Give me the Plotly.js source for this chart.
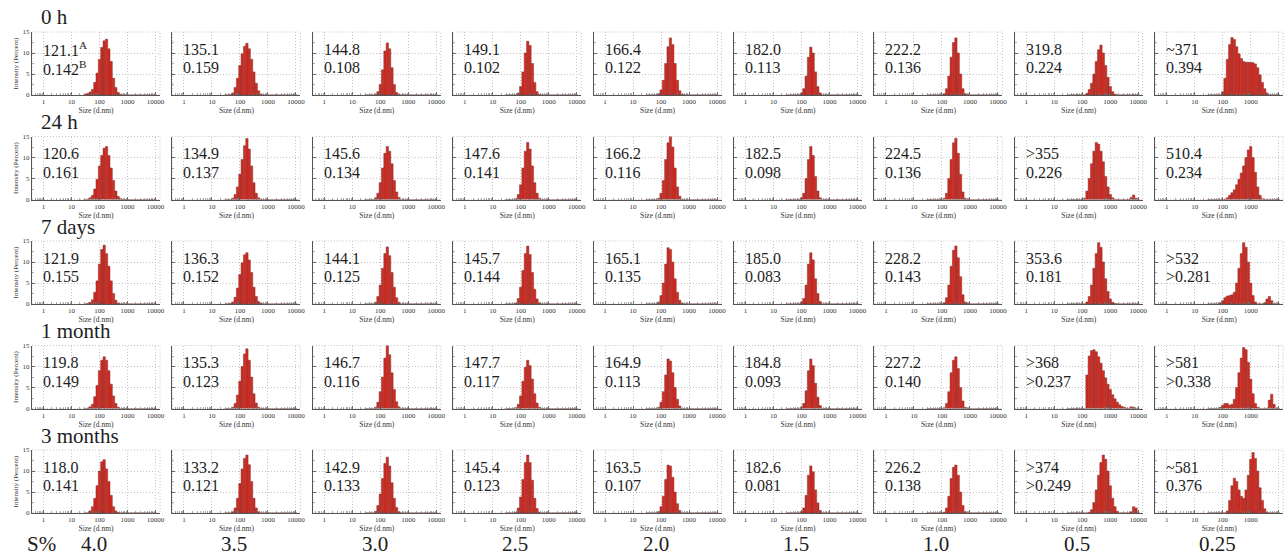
<!DOCTYPE html>
<html><head><meta charset="utf-8">
<script src="https://cdn.plot.ly/plotly-3.0.1.min.js"></script>
<style>html,body{margin:0;padding:0;background:#fff}#chart{width:1287px;height:558px}</style>
</head><body><div id="chart"></div>
<script>
// Size bins (d.nm) of the intensity distributions (12 per decade)
const sizeBins = [31.6, 38.3, 46.4, 56.2, 68.1, 82.5, 100, 121, 147, 178, 215, 261, 316, 383, 464, 562, 681, 825,
                  1000, 1212, 1468, 1778, 2154, 2610, 3162, 3831, 4642, 5623, 6813, 8254, 10000];
const xTickSizes = [1, 10, 100, 1000, 10000];
const rowTitles = ['0 h', '24 h', '7 days', '1 month', '3 months'];
const surfactant = ['4.0', '3.5', '3.0', '2.5', '2.0', '1.5', '1.0', '0.5', '0.25'];

// Intensity (%) per size bin, one list per S% column
const intensity_0h = [
  [0.2,0.4,0.7, 1.3,3,5.2, 8.5,11.3,12.9, 13.3,11,8, 4,1.8,0.6, 0.1,0,0, 0,0,0, 0,0,0, 0,0,0, 0,0,0, 0],
  [0,0,0.1, 0.5,1.8,4, 7,9.8,11.6, 12.3,11,8.5, 5.5,2.8,1, 0.2,0,0, 0,0,0, 0,0,0, 0,0,0, 0,0,0, 0],
  [0,0,0, 0,0.1,0.8, 2.5,6,10.5, 12.4,11,6.5, 2.5,0.6,0.1, 0,0,0, 0,0,0, 0,0,0, 0,0,0, 0,0,0, 0],
  [0,0,0, 0,0,0.5, 2,5.5,10, 12.8,11.8,7.5, 3,0.8,0.1, 0,0,0, 0,0,0, 0,0,0, 0,0,0, 0,0,0, 0],
  [0,0,0, 0,0,0.3, 1.2,3.5,7.5, 11.5,13.6,12, 7.5,3.5,1, 0.2,0,0, 0,0,0, 0,0,0, 0,0,0, 0,0,0, 0],
  [0,0,0, 0,0,0, 0.4,1.5,4.5, 9,11.4,10, 5.5,2,0.5, 0,0,0, 0,0,0, 0,0,0, 0,0,0, 0,0,0, 0],
  [0,0,0, 0,0,0, 0,0.3,1.5, 4.5,9,12.5, 13.6,10,5, 1.5,0.3,0, 0,0,0, 0,0,0, 0,0,0, 0,0,0, 0],
  [0,0,0, 0,0,0, 0,0,0.4, 1.3,2.8,5, 8,10.8,11.9, 10,7,4.2, 2,0.8,0.2, 0,0,0, 0,0,0, 0,0,0, 0],
  [0,0,0, 0,0,0, 0.8,4,8.5, 12,13.7,13.2, 11.5,9.8,8.7, 8,7.8,7.8, 7.8,7.7,7.4, 6.5,4.8,3, 1.5,0.5,0, 0,0,0, 0]
];
const intensity_24h = [
  [0,0.1,0.4, 1,2.5,4.8, 8,10.5,12.2, 12.6,10.5,7.5, 4.5,2,0.7, 0.2,0,0, 0,0,0, 0,0,0, 0,0,0, 0,0,0, 0],
  [0,0,0, 0.3,1.2,3, 6,9.5,12.8, 14.5,12,8, 4,1.5,0.4, 0,0,0, 0,0,0, 0,0,0, 0,0,0, 0,0,0, 0],
  [0,0,0, 0,0.4,1.5, 4,7.5,11, 12.6,11.5,8.5, 4.5,1.8,0.5, 0,0,0, 0,0,0, 0,0,0, 0,0,0, 0,0,0, 0],
  [0,0,0, 0,0.2,1.2, 3.5,7.5,11.5, 13.6,12,8, 4,1.5,0.3, 0,0,0, 0,0,0, 0,0,0, 0,0,0, 0,0,0, 0],
  [0,0,0, 0,0,0.3, 1.5,4.5,9.5, 13.5,15,12.5, 7.5,3,0.8, 0,0,0, 0,0,0, 0,0,0, 0,0,0, 0,0,0, 0],
  [0,0,0, 0,0,0, 0.4,1.5,5, 9.5,12.6,10.5, 5.5,2,0.4, 0,0,0, 0,0,0, 0,0,0, 0,0,0, 0,0,0, 0],
  [0,0,0, 0,0,0, 0,0.3,1.5, 5,9.5,13.5, 14.6,11,6, 1.8,0.3,0, 0,0,0, 0,0,0, 0,0,0, 0,0,0, 0],
  [0,0,0, 0,0,0, 0,0.3,2, 5,8.5,11.5, 13.6,13.2,11.5, 9,5.5,3, 1.2,0.4,0.1, 0,0,0, 0,0,0, 0.5,1.1,0.3, 0],
  [0,0,0, 0,0,0, 0,0.1,0.4, 1,1.6,2.3, 3.5,4.8,6.3, 8,10,11.8, 12.6,10,6.5, 3,1,0.2, 0,0,0, 0,0,0, 0]
];
const intensity_7d = [
  [0,0.1,0.4, 1,2.8,5.5, 9.5,13,14, 12,9,5.5, 2.5,0.9,0.2, 0,0,0, 0,0,0, 0,0,0, 0,0,0, 0,0,0, 0],
  [0,0,0.1, 0.5,1.6,3.8, 7,9.8,11.7, 12.2,10.5,7.5, 4,1.8,0.6, 0.2,0,0, 0,0,0, 0,0,0, 0,0,0, 0,0,0, 0],
  [0,0,0, 0,0.4,1.8, 4.5,8.5,12, 13.6,11.5,7.5, 4,1.5,0.4, 0,0,0, 0,0,0, 0,0,0, 0,0,0, 0,0,0, 0],
  [0,0,0, 0,0.2,1.3, 4,8,12, 13.8,11.8,7.5, 3.5,1.2,0.3, 0,0,0, 0,0,0, 0,0,0, 0,0,0, 0,0,0, 0],
  [0,0,0, 0,0,0.5, 2,5,9.5, 13.4,13,10, 6,2.8,0.9, 0.2,0,0, 0,0,0, 0,0,0, 0,0,0, 0,0,0, 0],
  [0,0,0, 0,0,0, 0.4,1.3,4.5, 9.5,12.2,10.5, 6,2.5,0.6, 0,0,0, 0,0,0, 0,0,0, 0,0,0, 0,0,0, 0],
  [0,0,0, 0,0,0, 0,0.3,1.5, 4.5,9,12.8, 13.8,11,6.5, 2.2,0.5,0.1, 0,0,0, 0,0,0, 0,0,0, 0,0,0, 0],
  [0,0,0, 0,0,0, 0,0,0.5, 1.8,4.5,8.5, 12,14.6,13.5, 10,6,3, 1.2,0.4,0.1, 0,0,0, 0,0,0, 0,0,0, 0],
  [0,0,0, 0,0,0.3, 0.8,1.5,1.9, 2,2.2,2.8, 5,8.5,12, 14.6,13.5,10, 5,2,0.5, 0,0,0, 0.3,1.2,1.8, 0.8,0,0, 0]
];
const intensity_1m = [
  [0,0.1,0.4, 1,2.8,5.5, 9,11.5,12.3, 11.5,9,5.8, 3,1.2,0.3, 0,0,0, 0,0,0, 0,0,0, 0,0,0, 0,0,0, 0],
  [0,0,0, 0.3,1.2,3.2, 6.5,10,13, 14.2,11.5,7.5, 3.5,1.3,0.3, 0,0,0, 0,0,0, 0,0,0, 0,0,0, 0,0,0, 0],
  [0,0,0, 0,0.3,1.5, 4,7.5,12, 15,12.8,8.5, 4.5,1.6,0.4, 0,0,0, 0,0,0, 0,0,0, 0,0,0, 0,0,0, 0],
  [0,0,0, 0,0.2,1, 3,6.5,9.8, 11.5,10.2,7, 3.5,1.3,0.3, 0,0,0, 0,0,0, 0,0,0, 0,0,0, 0,0,0, 0],
  [0,0,0, 0,0,0.3, 1.5,4,8, 11.8,11.3,8.5, 5,2.2,0.6, 0,0,0, 0,0,0, 0,0,0, 0,0,0, 0,0,0, 0],
  [0,0,0, 0,0,0, 0.3,1.2,4.2, 9,11.8,10.2, 6,2.7,0.7, 0,0,0, 0,0,0, 0,0,0, 0,0,0, 0,0,0, 0],
  [0,0,0, 0,0,0, 0,0.2,1.2, 4,8.5,11.5, 12.3,9.5,5, 1.8,0.3,0, 0,0,0, 0,0,0, 0,0,0, 0,0,0, 0],
  [0,0,0, 0,0,0, 0,0,8, 12.5,13.8,14, 13.5,12.3,10.8, 9,7.3,5.8, 4.5,3.3,2.3, 1.5,0.9,0.5, 0.3,0.1,0, 0.4,0.3,0, 0],
  [0,0,0, 0,0,0.3, 0.8,1.2,1.2, 0.8,1,2.2, 5,8.5,12, 14.5,14,11, 7,3.5,1.2, 0.3,0,0, 0,0,2, 3.4,1,0, 0]
];
const intensity_3m = [
  [0,0,0.5, 1.5,3.5,6.5, 10,12.2,12.7, 10.5,7.5,4.2, 1.5,0.5,0.1, 0,0,0, 0,0,0, 0,0,0, 0,0,0, 0,0,0, 0],
  [0,0,0, 0.3,1.2,3.5, 7,10.5,13, 13.8,11.5,7.5, 3.5,1.2,0.3, 0,0,0, 0,0,0, 0,0,0, 0,0,0, 0,0,0, 0],
  [0,0,0, 0,0.4,1.8, 4.5,8.2,11.8, 13.3,11.2,7.2, 3.5,1.3,0.3, 0,0,0, 0,0,0, 0,0,0, 0,0,0, 0,0,0, 0],
  [0,0,0, 0,0.2,1.2, 3.8,8,12, 13.8,12,7.8, 3.5,1.1,0.2, 0,0,0, 0,0,0, 0,0,0, 0,0,0, 0,0,0, 0],
  [0,0,0, 0,0,0.3, 1.5,4,8, 11.4,11.2,8.5, 5,2.2,0.6, 0,0,0, 0,0,0, 0,0,0, 0,0,0, 0,0,0, 0],
  [0,0,0, 0,0,0, 0.3,1.2,4.2, 9,11.2,9.8, 5.5,2.4,0.6, 0,0,0, 0,0,0, 0,0,0, 0,0,0, 0,0,0, 0],
  [0,0,0, 0,0,0, 0,0.2,1.2, 4,8.2,10.9, 11.4,9,5, 1.8,0.3,0, 0,0,0, 0,0,0, 0,0,0, 0,0,0, 0],
  [0,0,0, 0,0,0, 0,0,0, 0.2,0.8,2.5, 5.5,9,12, 13.8,12.8,10, 6.5,3.5,1.5, 0.4,0,0, 0,0,0, 0.3,1.5,1.2, 0],
  [0,0,0, 0,0,0, 0,0,0.5, 3,6.5,8.3, 7.5,5.5,4, 3.5,5.5,9, 12.8,14.4,13, 10,6,3, 1,0.2,0, 0,0,0, 0]
];

// Z-average (d.nm) and PDI labels
const zavg_0h  = ['121.1<sup>A</sup>','135.1','144.8','149.1','166.4','182.0','222.2','319.8','~371'];
const pdi_0h   = ['0.142<sup>B</sup>','0.159','0.108','0.102','0.122','0.113','0.136','0.224','0.394'];
const zavg_24h = ['120.6','134.9','145.6','147.6','166.2','182.5','224.5','>355','510.4'];
const pdi_24h  = ['0.161','0.137','0.134','0.141','0.116','0.098','0.136','0.226','0.234'];
const zavg_7d  = ['121.9','136.3','144.1','145.7','165.1','185.0','228.2','353.6','>532'];
const pdi_7d   = ['0.155','0.152','0.125','0.144','0.135','0.083','0.143','0.181','>0.281'];
const zavg_1m  = ['119.8','135.3','146.7','147.7','164.9','184.8','227.2','>368','>581'];
const pdi_1m   = ['0.149','0.123','0.116','0.117','0.113','0.093','0.140','>0.237','>0.338'];
const zavg_3m  = ['118.0','133.2','142.9','145.4','163.5','182.6','226.2','>374','~581'];
const pdi_3m   = ['0.141','0.121','0.133','0.123','0.107','0.081','0.138','>0.249','0.376'];

const intensityRows = [intensity_0h, intensity_24h, intensity_7d, intensity_1m, intensity_3m];
const zavgRows = [zavg_0h, zavg_24h, zavg_7d, zavg_1m, zavg_3m];
const pdiRows = [pdi_0h, pdi_24h, pdi_7d, pdi_1m, pdi_3m];

// ---- layout geometry (pixels) ----
const W = 1287, H = 558;
const PW = 128, PH = 63, COL0 = 32, COLSTEP = 140.4, ROW0 = 32, ROWSTEP = 104.5;
const FONT = 'Liberation Serif, DejaVu Serif, serif';
const TXT = '#1e1e1e';
const GRID = '#c4c4c4';

const xPos = sizeBins.map(v => Math.log10(v));
const xTickVals = xTickSizes.map(v => Math.log10(v));
const minorVals = [];
[0.1, 1, 10, 100, 1000].forEach(d => { for (let m = 2; m <= 9; m++) minorVals.push(Math.log10(m * d)); });

const data = [];
const layout = {
  width: W, height: H,
  margin: {l: 0, r: 0, t: 0, b: 0},
  paper_bgcolor: '#fff', plot_bgcolor: '#fff',
  showlegend: false,
  bargap: 0,
  font: {family: FONT, color: TXT},
  annotations: [], shapes: []
};

for (let r = 0; r < 5; r++) {
  for (let c = 0; c < 9; c++) {
    const n = r * 9 + c + 1;
    const sfx = n === 1 ? '' : String(n);
    const x0 = COL0 + COLSTEP * c, y0 = ROW0 + ROWSTEP * r;
    data.push({
      type: 'bar', x: xPos, y: intensityRows[r][c], width: 1 / 12,
      xaxis: 'x' + sfx, yaxis: 'y' + sfx,
      marker: {color: '#d9271e', line: {color: '#7a3a36', width: 0.5}},
      hoverinfo: 'skip'
    });
    layout['xaxis' + sfx] = {
      domain: [x0 / W, (x0 + PW) / W], anchor: 'y' + sfx,
      range: [-0.41, 4.16], fixedrange: true,
      tickmode: 'array', tickvals: xTickVals, ticktext: xTickSizes.map(String),
      ticks: 'inside', ticklen: 3, tickcolor: '#555', tickwidth: 0.8,
      minor: {tickvals: minorVals, ticks: 'inside', ticklen: 2, tickcolor: '#777', tickwidth: 0.6, showgrid: false},
      showline: true, linecolor: '#555', linewidth: 1,
      showgrid: true, gridcolor: GRID, griddash: '1px,2px', gridwidth: 1,
      zeroline: false,
      tickfont: {size: 7, family: FONT, color: '#333'},
      title: {text: 'Size (d.nm)', font: {size: 7.5, family: FONT, color: '#333'}, standoff: 1}
    };
    const ya = {
      domain: [1 - (y0 + PH) / H, 1 - y0 / H], anchor: 'x' + sfx,
      range: [0, 15], fixedrange: true,
      tickmode: 'array', tickvals: [0, 5, 10, 15],
      ticks: 'inside', ticklen: 3, tickcolor: '#555', tickwidth: 0.8,
      minor: {dtick: 2.5, ticks: 'inside', ticklen: 2, tickcolor: '#777', tickwidth: 0.6, showgrid: false},
      showline: true, linecolor: '#555', linewidth: 1,
      showgrid: true, gridcolor: GRID, griddash: '1px,2px', gridwidth: 1,
      zeroline: false,
      showticklabels: c === 0,
      tickfont: {size: 7, family: FONT, color: '#333'}
    };
    if (c === 0) ya.title = {text: 'Intensity (Percent)', font: {size: 7, family: FONT, color: '#333'}, standoff: 3};
    layout['yaxis' + sfx] = ya;
    // dotted frame on top/right
    layout.shapes.push({type: 'rect', xref: 'x' + sfx + ' domain', yref: 'y' + sfx + ' domain',
      x0: 0, x1: 1, y0: 0, y1: 1, layer: 'below', line: {color: GRID, width: 1, dash: '1px,2px'}});
    // Z-average and PDI
    layout.annotations.push({xref: 'x' + sfx + ' domain', yref: 'y' + sfx + ' domain', x: 0.07, y: 0.73,
      xanchor: 'left', yanchor: 'middle', showarrow: false, text: zavgRows[r][c],
      font: {size: 16, family: FONT, color: TXT}});
    layout.annotations.push({xref: 'x' + sfx + ' domain', yref: 'y' + sfx + ' domain', x: 0.07, y: 0.43,
      xanchor: 'left', yanchor: 'middle', showarrow: false, text: pdiRows[r][c],
      font: {size: 16, family: FONT, color: TXT}});
  }
  // row title
  layout.annotations.push({xref: 'paper', yref: 'paper', x: 39 / W, y: 1 - (ROW0 + ROWSTEP * r - 0.5) / H,
    xanchor: 'left', yanchor: 'bottom', showarrow: false, text: rowTitles[r],
    font: {size: 21, family: FONT, color: TXT}});
}
// bottom S% labels
layout.annotations.push({xref: 'paper', yref: 'paper', x: 41.5 / W, y: 0,
  xanchor: 'center', yanchor: 'bottom', showarrow: false, text: 'S%',
  font: {size: 21, family: FONT, color: TXT}});
surfactant.forEach((s, c) => {
  layout.annotations.push({xref: 'paper', yref: 'paper', x: (COL0 + COLSTEP * c + PW / 2 - 2) / W, y: 0,
    xanchor: 'center', yanchor: 'bottom', showarrow: false, text: s,
    font: {size: 21, family: FONT, color: TXT}});
});

Plotly.newPlot('chart', data, layout, {displayModeBar: false, staticPlot: true});
</script>
</body></html>
